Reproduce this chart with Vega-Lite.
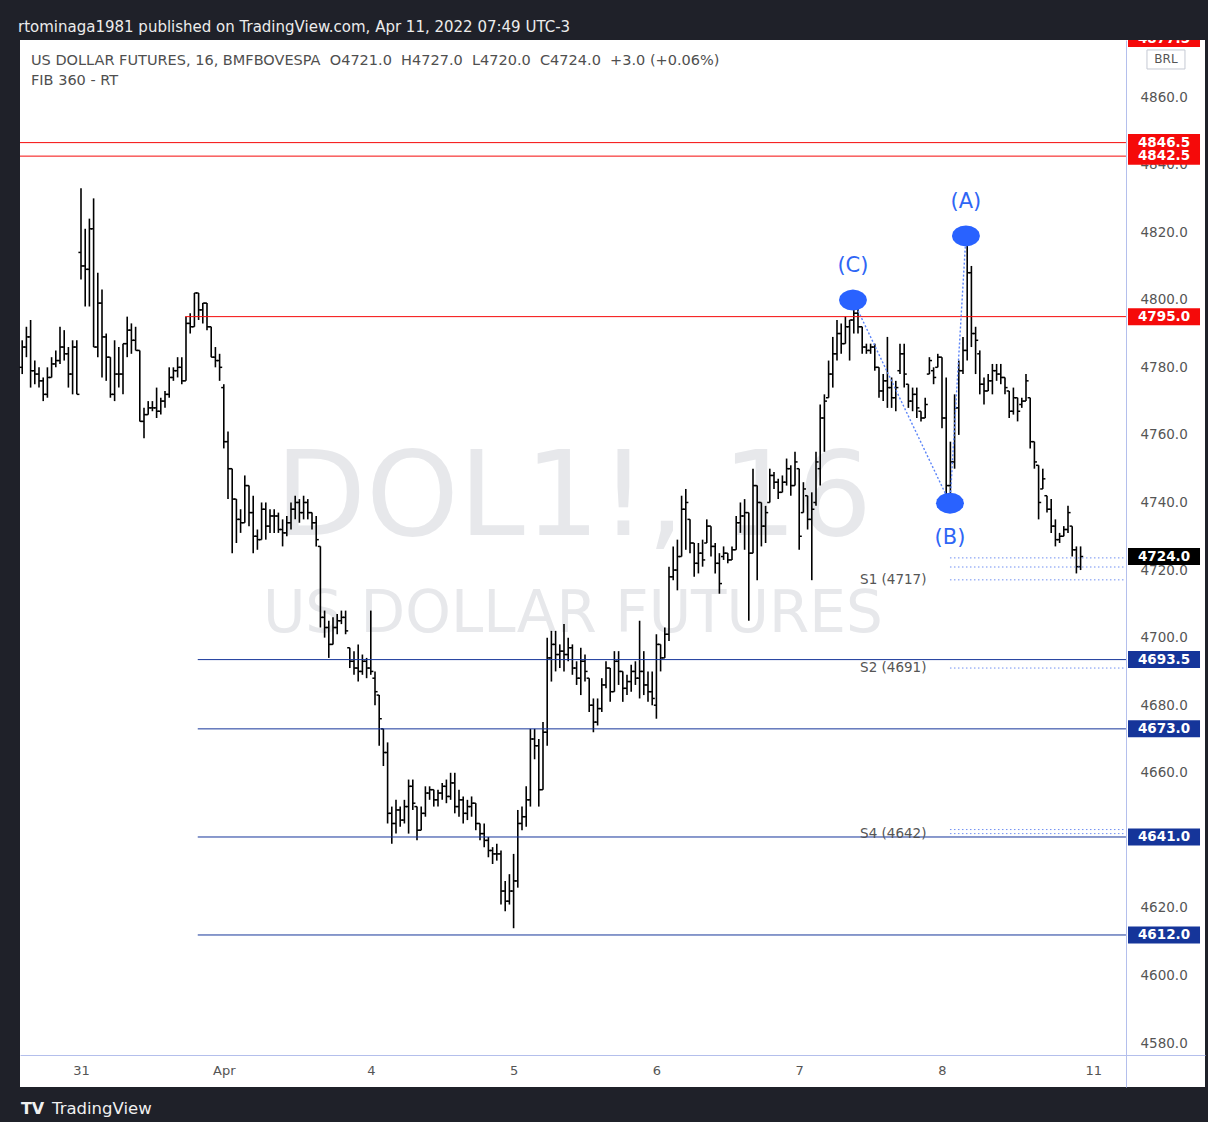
{
  "$schema": "https://vega.github.io/schema/vega-lite/v6.json",
  "width": 1185,
  "height": 1047,
  "autosize": {"type": "none"},
  "padding": {"left": 20, "top": 40, "right": 3, "bottom": 35},
  "background": "#1f2129",
  "config": {"view": {"fill": "#ffffff", "stroke": null}, "font": "DejaVu Sans"},
  "title": {"text": "rtominaga1981 published on TradingView.com, Apr 11, 2022 07:49 UTC-3", "anchor": "start", "frame": "group", "color": "#ececec", "font": "DejaVu Sans", "fontSize": 15, "fontWeight": "normal", "baseline": "middle", "offset": 13, "dy": 15, "dx": -2},
  "datasets": {
    "bars": [
      {"i":-14,"o":4780,"h":4788,"l":4778,"c":4786},{"i":-13,"o":4786,"h":4792,"l":4783,"c":4789},{"i":-12,"o":4789,"h":4794,"l":4774,"c":4779},{"i":-11,"o":4779,"h":4782,"l":4775,"c":4778},{"i":-10,"o":4778,"h":4780,"l":4774,"c":4776},{"i":-9,"o":4776,"h":4777,"l":4770,"c":4772},{"i":-8,"o":4772,"h":4780,"l":4771,"c":4777},{"i":-7,"o":4777,"h":4783,"l":4777,"c":4781},{"i":-6,"o":4781,"h":4785,"l":4780,"c":4782},{"i":-5,"o":4782,"h":4792,"l":4781,"c":4786},{"i":-4,"o":4786,"h":4791,"l":4782,"c":4784},{"i":-3,"o":4784,"h":4786,"l":4774,"c":4778},{"i":-2,"o":4778,"h":4788,"l":4772,"c":4786},{"i":-1,"o":4786,"h":4788,"l":4772,"c":4772},
      {"i":0,"o":4814,"h":4833,"l":4806,"c":4810},{"i":1,"o":4810,"h":4821,"l":4798,"c":4809},{"i":2,"o":4809,"h":4824,"l":4798,"c":4821},{"i":3,"o":4821,"h":4830,"l":4786,"c":4786},{"i":4,"o":4786,"h":4808,"l":4783,"c":4799},{"i":5,"o":4799,"h":4803,"l":4777,"c":4789},{"i":6,"o":4789,"h":4790,"l":4776,"c":4783},{"i":7,"o":4783,"h":4783,"l":4771,"c":4772},{"i":8,"o":4772,"h":4788,"l":4770,"c":4778},{"i":9,"o":4778,"h":4786,"l":4774,"c":4778},{"i":10,"o":4778,"h":4787,"l":4772,"c":4787},{"i":11,"o":4787,"h":4795,"l":4783,"c":4791},{"i":12,"o":4791,"h":4793,"l":4784,"c":4788},{"i":13,"o":4788,"h":4792,"l":4785,"c":4785},{"i":14,"o":4785,"h":4785,"l":4764,"c":4764},{"i":15,"o":4764,"h":4768,"l":4759,"c":4766},{"i":16,"o":4766,"h":4770,"l":4766,"c":4768},{"i":17,"o":4768,"h":4770,"l":4767,"c":4768},{"i":18,"o":4768,"h":4774,"l":4765,"c":4767},{"i":19,"o":4767,"h":4771,"l":4766,"c":4770},{"i":20,"o":4770,"h":4773,"l":4768,"c":4772},{"i":21,"o":4772,"h":4780,"l":4771,"c":4777},{"i":22,"o":4777,"h":4780,"l":4776,"c":4779},{"i":23,"o":4779,"h":4783,"l":4777,"c":4780},{"i":24,"o":4780,"h":4783,"l":4775,"c":4776},{"i":25,"o":4776,"h":4795,"l":4776,"c":4793},{"i":26,"o":4793,"h":4796,"l":4790,"c":4792},{"i":27,"o":4792,"h":4802,"l":4792,"c":4802},{"i":28,"o":4802,"h":4802,"l":4794,"c":4797},{"i":29,"o":4797,"h":4799,"l":4793,"c":4799},{"i":30,"o":4799,"h":4799,"l":4791,"c":4792},{"i":31,"o":4792,"h":4792,"l":4783,"c":4783},{"i":32,"o":4783,"h":4786,"l":4780,"c":4782},{"i":33,"o":4782,"h":4784,"l":4776,"c":4780},
      {"i":34,"o":4774,"h":4775,"l":4756,"c":4758},{"i":35,"o":4758,"h":4761,"l":4741,"c":4750},{"i":36,"o":4750,"h":4750,"l":4725,"c":4741},{"i":37,"o":4741,"h":4741,"l":4728,"c":4735},{"i":38,"o":4735,"h":4738,"l":4731,"c":4734},{"i":39,"o":4734,"h":4748,"l":4734,"c":4745},{"i":40,"o":4745,"h":4745,"l":4733,"c":4737},{"i":41,"o":4737,"h":4742,"l":4725,"c":4730},{"i":42,"o":4730,"h":4732,"l":4726,"c":4729},{"i":43,"o":4729,"h":4740,"l":4729,"c":4738},{"i":44,"o":4738,"h":4740,"l":4729,"c":4733},{"i":45,"o":4733,"h":4738,"l":4731,"c":4736},{"i":46,"o":4736,"h":4738,"l":4731,"c":4736},{"i":47,"o":4736,"h":4737,"l":4731,"c":4732},{"i":48,"o":4732,"h":4735,"l":4727,"c":4731},{"i":49,"o":4731,"h":4736,"l":4730,"c":4734},{"i":50,"o":4734,"h":4740,"l":4732,"c":4738},{"i":51,"o":4738,"h":4742,"l":4735,"c":4740},{"i":52,"o":4740,"h":4741,"l":4734,"c":4737},{"i":53,"o":4737,"h":4742,"l":4735,"c":4740},{"i":54,"o":4740,"h":4741,"l":4735,"c":4737},{"i":55,"o":4737,"h":4737,"l":4732,"c":4734},{"i":56,"o":4734,"h":4736,"l":4727,"c":4729},{"i":57,"o":4727,"h":4727,"l":4703,"c":4706},{"i":58,"o":4706,"h":4708,"l":4700,"c":4703},{"i":59,"o":4703,"h":4705,"l":4694,"c":4698},{"i":60,"o":4698,"h":4706,"l":4698,"c":4703},{"i":61,"o":4703,"h":4707,"l":4701,"c":4705},{"i":62,"o":4705,"h":4708,"l":4704,"c":4706},{"i":63,"o":4706,"h":4708,"l":4701,"c":4702},{"i":64,"o":4697,"h":4697,"l":4691,"c":4693},{"i":65,"o":4693,"h":4696,"l":4689,"c":4691},{"i":66,"o":4691,"h":4698,"l":4687,"c":4690},{"i":67,"o":4690,"h":4695,"l":4689,"c":4693},{"i":68,"o":4693,"h":4694,"l":4688,"c":4691},
      {"i":69,"o":4691,"h":4708,"l":4689,"c":4690},{"i":70,"o":4688,"h":4690,"l":4680,"c":4684},{"i":71,"o":4683,"h":4683,"l":4668,"c":4676},{"i":72,"o":4673,"h":4673,"l":4662,"c":4666},{"i":73,"o":4666,"h":4669,"l":4645,"c":4648},{"i":74,"o":4648,"h":4650,"l":4639,"c":4645},{"i":75,"o":4645,"h":4652,"l":4642,"c":4649},{"i":76,"o":4649,"h":4650,"l":4644,"c":4646},{"i":77,"o":4646,"h":4652,"l":4645,"c":4650},{"i":78,"o":4650,"h":4658,"l":4642,"c":4656},{"i":79,"o":4656,"h":4658,"l":4649,"c":4651},{"i":80,"o":4650,"h":4650,"l":4640,"c":4643},{"i":81,"o":4643,"h":4650,"l":4643,"c":4648},{"i":82,"o":4648,"h":4656,"l":4647,"c":4654},{"i":83,"o":4654,"h":4656,"l":4652,"c":4655},{"i":84,"o":4655,"h":4655,"l":4650,"c":4652},{"i":85,"o":4652,"h":4655,"l":4650,"c":4654},{"i":86,"o":4654,"h":4657,"l":4652,"c":4656},{"i":87,"o":4656,"h":4658,"l":4651,"c":4653},{"i":88,"o":4653,"h":4660,"l":4652,"c":4657},{"i":89,"o":4657,"h":4660,"l":4648,"c":4650},{"i":90,"o":4650,"h":4655,"l":4647,"c":4652},{"i":91,"o":4652,"h":4653,"l":4645,"c":4648},{"i":92,"o":4648,"h":4652,"l":4646,"c":4650},{"i":93,"o":4650,"h":4653,"l":4647,"c":4651},{"i":94,"o":4651,"h":4651,"l":4643,"c":4645},{"i":95,"o":4645,"h":4645,"l":4640,"c":4642},{"i":96,"o":4642,"h":4645,"l":4638,"c":4640},{"i":97,"o":4640,"h":4641,"l":4635,"c":4637},{"i":98,"o":4637,"h":4638,"l":4633,"c":4636},{"i":99,"o":4636,"h":4639,"l":4634,"c":4636},{"i":100,"o":4636,"h":4637,"l":4621,"c":4625},{"i":101,"o":4625,"h":4628,"l":4619,"c":4622},{"i":102,"o":4622,"h":4630,"l":4621,"c":4625},
      {"i":103,"o":4625,"h":4636,"l":4614,"c":4628},{"i":104,"o":4628,"h":4649,"l":4626,"c":4645},{"i":105,"o":4645,"h":4650,"l":4643,"c":4647},{"i":106,"o":4647,"h":4656,"l":4644,"c":4652},{"i":107,"o":4652,"h":4673,"l":4650,"c":4670},{"i":108,"o":4670,"h":4673,"l":4664,"c":4668},{"i":109,"o":4668,"h":4670,"l":4650,"c":4655},{"i":110,"o":4655,"h":4675,"l":4655,"c":4672},{"i":111,"o":4672,"h":4700,"l":4668,"c":4694},{"i":112,"o":4694,"h":4702,"l":4687,"c":4698},{"i":113,"o":4698,"h":4702,"l":4690,"c":4695},{"i":114,"o":4695,"h":4698,"l":4691,"c":4696},{"i":115,"o":4696,"h":4704,"l":4690,"c":4695},{"i":116,"o":4695,"h":4700,"l":4693,"c":4697},{"i":117,"o":4697,"h":4698,"l":4689,"c":4691},{"i":118,"o":4691,"h":4693,"l":4686,"c":4688},{"i":119,"o":4688,"h":4697,"l":4683,"c":4693},{"i":120,"o":4693,"h":4695,"l":4687,"c":4690},{"i":121,"o":4688,"h":4688,"l":4678,"c":4680},{"i":122,"o":4680,"h":4682,"l":4672,"c":4675},{"i":123,"o":4675,"h":4682,"l":4674,"c":4679},{"i":124,"o":4679,"h":4688,"l":4678,"c":4686},{"i":125,"o":4686,"h":4693,"l":4685,"c":4691},{"i":126,"o":4691,"h":4691,"l":4681,"c":4684},{"i":127,"o":4684,"h":4696,"l":4684,"c":4693},{"i":128,"o":4693,"h":4696,"l":4686,"c":4690},{"i":129,"o":4690,"h":4690,"l":4681,"c":4685},{"i":130,"o":4685,"h":4689,"l":4683,"c":4687},{"i":131,"o":4687,"h":4692,"l":4684,"c":4690},{"i":132,"o":4690,"h":4693,"l":4686,"c":4688},{"i":133,"o":4688,"h":4705,"l":4682,"c":4690},{"i":134,"o":4690,"h":4696,"l":4683,"c":4686},{"i":135,"o":4686,"h":4690,"l":4681,"c":4684},{"i":136,"o":4684,"h":4690,"l":4680,"c":4682},
      {"i":137,"o":4680,"h":4701,"l":4676,"c":4698},{"i":138,"o":4698,"h":4698,"l":4690,"c":4694},{"i":139,"o":4694,"h":4703,"l":4694,"c":4701},{"i":140,"o":4701,"h":4721,"l":4699,"c":4718},{"i":141,"o":4718,"h":4727,"l":4717,"c":4720},{"i":142,"o":4720,"h":4729,"l":4714,"c":4724},{"i":143,"o":4724,"h":4742,"l":4724,"c":4738},{"i":144,"o":4738,"h":4744,"l":4726,"c":4740},{"i":145,"o":4735,"h":4735,"l":4725,"c":4728},{"i":146,"o":4728,"h":4728,"l":4718,"c":4722},{"i":147,"o":4722,"h":4728,"l":4719,"c":4725},{"i":148,"o":4725,"h":4729,"l":4721,"c":4723},{"i":149,"o":4728,"h":4735,"l":4728,"c":4733},{"i":150,"o":4733,"h":4733,"l":4724,"c":4727},{"i":151,"o":4727,"h":4728,"l":4719,"c":4722},{"i":152,"o":4722,"h":4725,"l":4713,"c":4716},{"i":153,"o":4724,"h":4727,"l":4723,"c":4725},{"i":154,"o":4725,"h":4725,"l":4722,"c":4723},{"i":155,"o":4723,"h":4727,"l":4723,"c":4726},{"i":156,"o":4726,"h":4736,"l":4726,"c":4734},{"i":157,"o":4734,"h":4740,"l":4731,"c":4736},{"i":158,"o":4736,"h":4741,"l":4726,"c":4737},{"i":159,"o":4737,"h":4737,"l":4705,"c":4725},{"i":160,"o":4725,"h":4750,"l":4725,"c":4745},{"i":161,"o":4745,"h":4745,"l":4717,"c":4740},{"i":162,"o":4740,"h":4740,"l":4727,"c":4733},{"i":163,"o":4733,"h":4739,"l":4728,"c":4737},{"i":164,"o":4740,"h":4750,"l":4740,"c":4748},{"i":165,"o":4748,"h":4749,"l":4744,"c":4746},{"i":166,"o":4746,"h":4747,"l":4741,"c":4743},{"i":167,"o":4743,"h":4748,"l":4743,"c":4746},{"i":168,"o":4746,"h":4753,"l":4745,"c":4750},{"i":169,"o":4750,"h":4751,"l":4742,"c":4745},{"i":170,"o":4745,"h":4755,"l":4745,"c":4752},
      {"i":171,"o":4750,"h":4750,"l":4726,"c":4730},{"i":172,"o":4737,"h":4746,"l":4737,"c":4744},{"i":173,"o":4742,"h":4742,"l":4732,"c":4735},{"i":174,"o":4735,"h":4743,"l":4717,"c":4738},{"i":175,"o":4740,"h":4755,"l":4739,"c":4752},{"i":176,"o":4750,"h":4769,"l":4745,"c":4765},{"i":177,"o":4765,"h":4772,"l":4755,"c":4770},{"i":178,"o":4771,"h":4782,"l":4771,"c":4778},{"i":179,"o":4778,"h":4789,"l":4774,"c":4784},{"i":180,"o":4784,"h":4794,"l":4782,"c":4790},{"i":181,"o":4790,"h":4793,"l":4784,"c":4787},{"i":182,"o":4787,"h":4795,"l":4787,"c":4792},{"i":183,"o":4792,"h":4794,"l":4782,"c":4794},{"i":184,"o":4794,"h":4800,"l":4790,"c":4796},{"i":185,"o":4796,"h":4800,"l":4790,"c":4792},{"i":186,"o":4792,"h":4792,"l":4784,"c":4786},{"i":187,"o":4786,"h":4787,"l":4784,"c":4785},{"i":188,"o":4785,"h":4787,"l":4784,"c":4786},{"i":189,"o":4786,"h":4787,"l":4779,"c":4780},{"i":190,"o":4780,"h":4780,"l":4771,"c":4773},{"i":191,"o":4773,"h":4778,"l":4770,"c":4776},{"i":192,"o":4776,"h":4789,"l":4768,"c":4774},{"i":193,"o":4774,"h":4777,"l":4768,"c":4771},{"i":194,"o":4771,"h":4776,"l":4767,"c":4774},{"i":195,"o":4779,"h":4787,"l":4778,"c":4784},{"i":196,"o":4784,"h":4787,"l":4774,"c":4778},{"i":197,"o":4775,"h":4775,"l":4768,"c":4770},{"i":198,"o":4770,"h":4774,"l":4767,"c":4772},{"i":199,"o":4772,"h":4774,"l":4765,"c":4768},{"i":200,"o":4767,"h":4767,"l":4764,"c":4765},{"i":201,"o":4765,"h":4771,"l":4765,"c":4769},{"i":202,"o":4778,"h":4783,"l":4778,"c":4782},{"i":203,"o":4779,"h":4780,"l":4775,"c":4777},{"i":204,"o":4780,"h":4784,"l":4780,"c":4783},
      {"i":205,"o":4783,"h":4783,"l":4762,"c":4765},{"i":206,"o":4765,"h":4777,"l":4742,"c":4745},{"i":207,"o":4745,"h":4758,"l":4740,"c":4752},{"i":208,"o":4752,"h":4772,"l":4750,"c":4768},{"i":209,"o":4768,"h":4782,"l":4760,"c":4779},{"i":210,"o":4779,"h":4789,"l":4778,"c":4785},{"i":211,"o":4785,"h":4819,"l":4782,"c":4808},{"i":212,"o":4808,"h":4810,"l":4786,"c":4790},{"i":213,"o":4790,"h":4792,"l":4778,"c":4788},{"i":214,"o":4784,"h":4785,"l":4772,"c":4775},{"i":215,"o":4775,"h":4777,"l":4769,"c":4773},{"i":216,"o":4773,"h":4778,"l":4773,"c":4776},{"i":217,"o":4776,"h":4781,"l":4772,"c":4779},{"i":218,"o":4779,"h":4781,"l":4776,"c":4778},{"i":219,"o":4778,"h":4781,"l":4775,"c":4777},{"i":220,"o":4777,"h":4777,"l":4772,"c":4774},{"i":221,"o":4773,"h":4773,"l":4765,"c":4767},{"i":222,"o":4767,"h":4774,"l":4766,"c":4771},{"i":223,"o":4771,"h":4771,"l":4764,"c":4767},{"i":224,"o":4769,"h":4771,"l":4768,"c":4770},{"i":225,"o":4770,"h":4778,"l":4770,"c":4776},{"i":226,"o":4771,"h":4771,"l":4756,"c":4758},{"i":227,"o":4758,"h":4758,"l":4750,"c":4752},{"i":228,"o":4751,"h":4751,"l":4735,"c":4740},{"i":229,"o":4744,"h":4750,"l":4744,"c":4747},{"i":230,"o":4742,"h":4742,"l":4737,"c":4738},{"i":231,"o":4738,"h":4741,"l":4731,"c":4733},{"i":232,"o":4733,"h":4735,"l":4727,"c":4729},{"i":233,"o":4729,"h":4731,"l":4728,"c":4730},{"i":234,"o":4730,"h":4733,"l":4730,"c":4732},{"i":235,"o":4732,"h":4739,"l":4731,"c":4737},{"i":236,"o":4733,"h":4733,"l":4724,"c":4726},{"i":237,"o":4726,"h":4727,"l":4719,"c":4721},{"i":238,"o":4721,"h":4727,"l":4720,"c":4724}
    ],
    "hlines": [
      {"p": 4846.5, "from": -14.524, "to": 248.8, "kind": "res"},
      {"p": 4842.5, "from": -14.524, "to": 248.8, "kind": "res"},
      {"p": 4795.0, "from": 24.8, "to": 248.8, "kind": "res"},
      {"p": 4693.5, "from": 27.8, "to": 248.8, "kind": "sup"},
      {"p": 4673.0, "from": 27.8, "to": 248.8, "kind": "sup"},
      {"p": 4641.0, "from": 27.8, "to": 248.8, "kind": "sup"},
      {"p": 4612.0, "from": 27.8, "to": 248.8, "kind": "sup"}
    ],
    "plines": [
      {"p": 4723.6, "from": 206.9, "to": 248.8},
      {"p": 4720.9, "from": 206.9, "to": 248.8},
      {"p": 4717.1, "from": 206.9, "to": 248.8},
      {"p": 4691.0, "from": 206.9, "to": 248.8},
      {"p": 4643.2, "from": 206.9, "to": 248.8},
      {"p": 4642.0, "from": 206.9, "to": 248.8}
    ],
    "plabels": [
      {"label": "S1 (4717)", "i": 185.5, "p": 4717},
      {"label": "S2 (4691)", "i": 185.5, "p": 4691},
      {"label": "S4 (4642)", "i": 185.5, "p": 4642}
    ],
    "waves": [
      {"w": "(C)", "i": 183.8, "p": 4799.9, "seq": 1, "pos": "high"},
      {"w": "(B)", "i": 206.9, "p": 4739.8, "seq": 2, "pos": "low"},
      {"w": "(A)", "i": 210.7, "p": 4818.9, "seq": 3, "pos": "high"}
    ],
    "boxes": [
      {"p": 4877.3, "label": "4877.5", "kind": "res"},
      {"p": 4842.5, "label": "4842.5", "kind": "res"},
      {"p": 4846.5, "label": "4846.5", "kind": "res"},
      {"p": 4795.0, "label": "4795.0", "kind": "res"},
      {"p": 4724.0, "label": "4724.0", "kind": "last"},
      {"p": 4693.5, "label": "4693.5", "kind": "sup"},
      {"p": 4673.0, "label": "4673.0", "kind": "sup"},
      {"p": 4641.0, "label": "4641.0", "kind": "sup"},
      {"p": 4612.0, "label": "4612.0", "kind": "sup"}
    ]
  },
  "layer": [
    {
      "data": {"values": [{"t": "DOL1!, 16"}]},
      "mark": {"type": "text", "fontSize": 118, "color": "#e7e8eb", "align": "center", "baseline": "alphabetic"},
      "encoding": {
        "x": {"datum": 117.3, "type": "quantitative", "scale": {"domain": [-14.524, 267.62], "nice": false, "zero": false}},
        "y": {"datum": 4730.4, "type": "quantitative", "scale": {"domain": [4567.01, 4876.87], "nice": false, "zero": false}},
        "text": {"field": "t"}
      }
    },
    {
      "data": {"values": [{"t": "US DOLLAR FUTURES"}]},
      "mark": {"type": "text", "fontSize": 58, "color": "#e7e8eb", "align": "center", "baseline": "alphabetic"},
      "encoding": {
        "x": {"datum": 117.1, "type": "quantitative"},
        "y": {"datum": 4701.7, "type": "quantitative"},
        "text": {"field": "t"}
      }
    },
    {
      "data": {"name": "bars"},
      "mark": {"type": "rule", "color": "#000000", "strokeWidth": 1.6},
      "encoding": {
        "x": {"field": "i", "type": "quantitative", "scale": {"domain": [-14.524, 267.62], "nice": false, "zero": false},
              "axis": {"orient": "bottom", "offset": -32, "values": [0, 34, 69, 103, 137, 171, 205, 241],
                       "labelExpr": "datum.value == 0 ? '31' : datum.value == 34 ? 'Apr' : datum.value == 69 ? '4' : datum.value == 103 ? '5' : datum.value == 137 ? '6' : datum.value == 171 ? '7' : datum.value == 205 ? '8' : '11'",
                       "title": null, "grid": false, "ticks": false, "tickSize": 0, "labelPadding": 9, "labelFontSize": 13, "labelColor": "#555555", "labelFont": "DejaVu Sans", "domain": true, "domainColor": "#b4bfec", "domainWidth": 1, "labelFlush": false, "labelOverlap": false}},
        "y": {"field": "l", "type": "quantitative", "scale": {"domain": [4567.01, 4876.87], "nice": false, "zero": false},
              "axis": {"orient": "right", "offset": -79, "values": [4580, 4600, 4620, 4640, 4660, 4680, 4700, 4720, 4740, 4760, 4780, 4800, 4820, 4840, 4860],
                       "format": ".1f", "title": null, "grid": false, "ticks": false, "tickSize": 0, "labelPadding": 14, "labelFontSize": 13.5, "labelColor": "#555555", "labelFont": "DejaVu Sans", "domain": true, "domainColor": "#b4bfec", "domainWidth": 1, "labelAlign": "left", "labelBaseline": "middle"}},
        "y2": {"field": "h"}
      }
    },
    {
      "data": {"name": "bars"},
      "mark": {"type": "tick", "orient": "horizontal", "color": "#000000", "size": 2.6, "thickness": 1.5, "xOffset": -1.3, "opacity": 1},
      "encoding": {
        "x": {"field": "i", "type": "quantitative"},
        "y": {"field": "o", "type": "quantitative"}
      }
    },
    {
      "data": {"name": "bars"},
      "mark": {"type": "tick", "orient": "horizontal", "color": "#000000", "size": 2.6, "thickness": 1.5, "xOffset": 1.3, "opacity": 1},
      "encoding": {
        "x": {"field": "i", "type": "quantitative"},
        "y": {"field": "c", "type": "quantitative"}
      }
    },
    {
      "data": {"name": "hlines"},
      "mark": {"type": "rule", "strokeWidth": 1},
      "encoding": {
        "x": {"field": "from", "type": "quantitative"},
        "x2": {"field": "to"},
        "y": {"field": "p", "type": "quantitative"},
        "color": {"field": "kind", "type": "nominal", "legend": null, "scale": {"domain": ["res", "sup", "last"], "range": ["#f50a0a", "#15359a", "#000000"]}}
      }
    },
    {
      "data": {"name": "plines"},
      "mark": {"type": "rule", "strokeWidth": 1, "color": "#6f8ff2", "strokeDash": [1.5, 2.5]},
      "encoding": {
        "x": {"field": "from", "type": "quantitative"},
        "x2": {"field": "to"},
        "y": {"field": "p", "type": "quantitative"}
      }
    },
    {
      "data": {"name": "plabels"},
      "mark": {"type": "text", "fontSize": 13.5, "color": "#555555", "align": "left", "baseline": "middle"},
      "encoding": {
        "x": {"field": "i", "type": "quantitative"},
        "y": {"field": "p", "type": "quantitative"},
        "text": {"field": "label"}
      }
    },
    {
      "data": {"name": "waves"},
      "mark": {"type": "line", "color": "#5b84f8", "strokeWidth": 1.4, "strokeDash": [2, 2]},
      "encoding": {
        "x": {"field": "i", "type": "quantitative"},
        "y": {"field": "p", "type": "quantitative"},
        "order": {"field": "seq"}
      }
    },
    {
      "data": {"name": "waves"},
      "mark": {"type": "point", "shape": "M1,0L0.924,0.287L0.707,0.53L0.383,0.693L0,0.75L-0.383,0.693L-0.707,0.53L-0.924,0.287L-1,0L-0.924,-0.287L-0.707,-0.53L-0.383,-0.693L0,-0.75L0.383,-0.693L0.707,-0.53L0.924,-0.287Z", "filled": true, "size": 784, "color": "#2962ff", "opacity": 1},
      "encoding": {
        "x": {"field": "i", "type": "quantitative"},
        "y": {"field": "p", "type": "quantitative"}
      }
    },
    {
      "data": {"name": "waves"},
      "transform": [{"filter": "datum.pos == 'high'"}],
      "mark": {"type": "text", "fontSize": 21, "color": "#2f66f5", "align": "center", "baseline": "middle", "dy": -34},
      "encoding": {
        "x": {"field": "i", "type": "quantitative"},
        "y": {"field": "p", "type": "quantitative"},
        "text": {"field": "w"}
      }
    },
    {
      "data": {"name": "waves"},
      "transform": [{"filter": "datum.pos == 'low'"}],
      "mark": {"type": "text", "fontSize": 21, "color": "#2f66f5", "align": "center", "baseline": "middle", "dy": 35},
      "encoding": {
        "x": {"field": "i", "type": "quantitative"},
        "y": {"field": "p", "type": "quantitative"},
        "text": {"field": "w"}
      }
    },
    {
      "data": {"name": "boxes"},
      "mark": {"type": "point", "shape": "M-1,-0.236H1V0.236H-1Z", "filled": true, "size": 5184, "opacity": 1, "clip": true},
      "encoding": {
        "x": {"datum": 257.86, "type": "quantitative"},
        "y": {"field": "p", "type": "quantitative"},
        "color": {"field": "kind", "type": "nominal", "legend": null, "scale": {"domain": ["res", "sup", "last"], "range": ["#f50a0a", "#15359a", "#000000"]}}
      }
    },
    {
      "data": {"name": "boxes"},
      "mark": {"type": "text", "fontSize": 13.5, "fontWeight": "bold", "color": "#ffffff", "align": "center", "baseline": "middle", "clip": true},
      "encoding": {
        "x": {"datum": 257.86, "type": "quantitative"},
        "y": {"field": "p", "type": "quantitative"},
        "text": {"field": "label"}
      }
    },
    {
      "data": {"values": [{"t": "BRL"}]},
      "mark": {"type": "point", "shape": "M-1,-0.5H1V0.5H-1Z", "filled": false, "size": 1444, "color": "#c5c9d3", "strokeWidth": 1, "opacity": 1},
      "encoding": {
        "x": {"datum": 258.33, "type": "quantitative"},
        "y": {"datum": 4871.1, "type": "quantitative"}
      }
    },
    {
      "data": {"values": [{"t": "BRL"}]},
      "mark": {"type": "text", "fontSize": 12, "color": "#555555", "align": "center", "baseline": "middle"},
      "encoding": {
        "x": {"datum": 258.33, "type": "quantitative"},
        "y": {"datum": 4871.1, "type": "quantitative"},
        "text": {"field": "t"}
      }
    },
    {
      "data": {"values": [{"t": "US DOLLAR FUTURES, 16, BMFBOVESPA\u00a0 O4721.0\u00a0 H4727.0\u00a0 L4720.0\u00a0 C4724.0\u00a0 +3.0 (+0.06%)\nFIB 360 - RT"}]},
      "mark": {"type": "text", "fontSize": 14.5, "color": "#4f4f4f", "align": "left", "baseline": "alphabetic", "lineBreak": "\n", "lineHeight": 20},
      "encoding": {
        "x": {"datum": -11.905, "type": "quantitative"},
        "y": {"datum": 4869.5, "type": "quantitative"},
        "text": {"field": "t"}
      }
    },
    {
      "data": {"values": [{"t": "TradingView"}]},
      "mark": {"type": "text", "fontSize": 16.5, "color": "#f0f0f0", "align": "left", "baseline": "alphabetic"},
      "encoding": {
        "x": {"datum": -6.905, "type": "quantitative"},
        "y": {"datum": 4559.0, "type": "quantitative"},
        "text": {"field": "t"}
      }
    },
    {
      "data": {"values": [{"t": "TV"}]},
      "mark": {"type": "text", "fontSize": 16, "fontWeight": "bold", "color": "#f0f0f0", "align": "left", "baseline": "alphabetic"},
      "encoding": {
        "x": {"datum": -14.3, "type": "quantitative"},
        "y": {"datum": 4559.0, "type": "quantitative"},
        "text": {"field": "t"}
      }
    }
  ]
}
